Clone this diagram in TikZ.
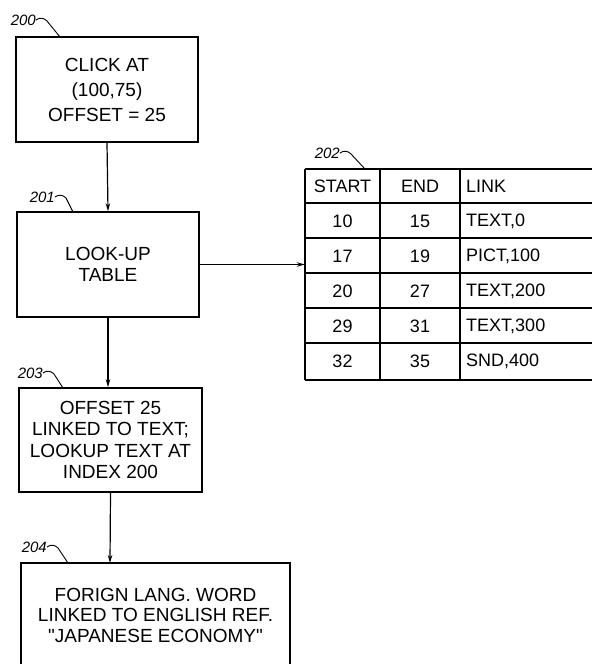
\documentclass[tikz,border=0pt]{standalone}
\usepackage{fontspec}
\setmainfont{Liberation Sans}[Ligatures=TeXOff]
\usetikzlibrary{arrows.meta,calc}
\begin{document}
\begin{tikzpicture}[x=1pt,y=-1pt,
  box/.style={draw,line width=1.5pt,inner sep=0pt,align=center,
    font=\fontsize{19}{21.3}\selectfont},
  conn/.style={line width=1.2pt,-{Stealth[length=8pt,width=4.5pt]}},
  ref/.style={font=\fontsize{15}{17}\selectfont\itshape,inner sep=0pt,anchor=east},
  lead/.style={line width=0.9pt},
  cell/.style={font=\fontsize{18}{20}\selectfont,inner sep=0pt},
  tline/.style={line width=1.4pt}]
\useasboundingbox (0,0) rectangle (592,664);

% boxes
\node[box,minimum width=182pt,minimum height=105pt,
  font=\fontsize{19}{25}\selectfont] (b200) at (107,89.5)
  {CLICK AT\\(100,75)\\OFFSET = 25};
\node[box,minimum width=182pt,minimum height=105pt] (b201) at (108,264.5)
  {LOOK-UP\\TABLE};
\node[box,minimum width=183pt,minimum height=104pt] (b203) at (110.5,440)
  {OFFSET 25\\LINKED TO TEXT;\\LOOKUP TEXT AT\\INDEX 200};
\node[box,minimum width=269pt,minimum height=104pt,
  font=\fontsize{19}{20.5}\selectfont] (b204) at (155.5,615)
  {FORIGN LANG. WORD\\LINKED TO ENGLISH REF.\\"JAPANESE ECONOMY"};

% table
\node[minimum width=287pt,minimum height=211pt,inner sep=0pt] (tbl) at (448.5,274.5) {};
\foreach \yy in {169,203,238,273,308,343,380}
  \draw[tline] (305,\yy) -- (592,\yy);
\foreach \xx in {305,380,460}
  \draw[tline] (\xx,169) -- (\xx,380);
\node[cell] (h1) at (342.5,186) {START};
\node[cell] (h2) at (420,186) {END};
\node[cell,anchor=west] (h3) at (466,186) {LINK};
\foreach \s/\e/\l [count=\i] in {10/15/{TEXT,0},17/19/{PICT,100},20/27/{TEXT,200},29/31/{TEXT,300},32/35/{SND,400}}{
  \pgfmathsetmacro{\yc}{186+35*\i}
  \node[cell] (s\i) at (342.5,\yc) {\s};
  \node[cell] (e\i) at (420,\yc) {\e};
  \node[cell,anchor=west] (k\i) at (466,\yc) {\l};
}

% connectors
\draw[conn] (b200.south) -- (b201.north);
\draw[conn] (b201.east) -- (b201.east -| tbl.west);
\draw[conn] (b201.south) -- (b201.south |- b203.north);
\coordinate (t204) at (110,563);
\draw[conn] (b203.south) -- (t204);

% reference labels
\node[ref] (l200) at (36,20) {200};
\node[ref] (l201) at (55,197) {201};
\node[ref] (l202) at (340,153) {202};
\node[ref] (l203) at (43,373) {203};
\node[ref] (l204) at (47,547) {204};
\coordinate (c200) at (60,37);
\coordinate (c201) at (73,212);
\coordinate (c202) at (365,169);
\coordinate (c203) at (63,388);
\coordinate (c204) at (68,563);
\foreach \n in {200,201,202,203,204}{
  \draw[lead] (l\n.east) .. controls ($(l\n.east)+(4,-3)$) and ($(l\n.east)+(8,-2)$) ..
    ($(l\n.east)+(11,1)$) -- (c\n);
}
\end{tikzpicture}
\end{document}
